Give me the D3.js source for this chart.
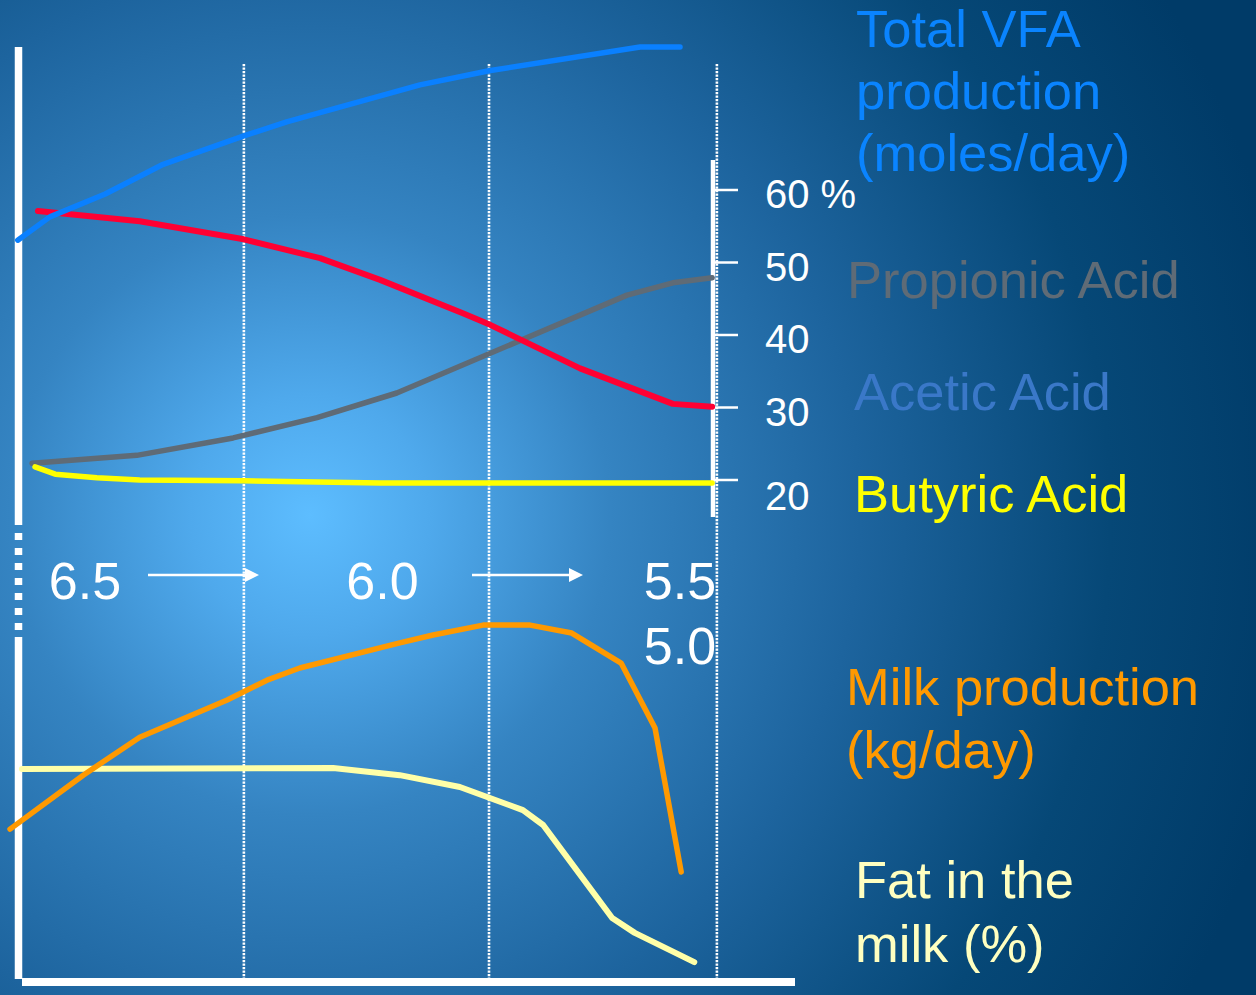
<!DOCTYPE html>
<html>
<head>
<meta charset="utf-8">
<script src="https://cdn.jsdelivr.net/npm/d3@7"></script>
<style>
  html, body { margin: 0; padding: 0; overflow: hidden; background: #0b4a80; }
  svg { display: block; font-family: "Liberation Sans", Arial, sans-serif; }
</style>
</head>
<body>
<svg id="chart" width="1256" height="995"></svg>
<script>
// ---------------- data ----------------
// x positions are rumen pH
const phLabels = ["6.5", "6.0", "5.5"];
const phLabelValues = [6.5, 6.0, 5.5];
const gridPH = [6.233, 5.821, 5.438];

// Total VFA production (relative units, 0-100)
const vfaPH  = [6.613, 6.559, 6.466, 6.371, 6.233, 6.161, 5.937, 5.821, 5.567, 5.500];
const vfaVal = [54.5, 59.8, 65.0, 71.6, 78.2, 81.4, 89.8, 93.0, 98.4, 98.4];

// Acetic acid (%)
const aceticPH  = [6.579, 6.408, 6.233, 6.105, 6.004, 5.865, 5.819, 5.668, 5.512, 5.446];
const aceticVal = [57.1, 55.7, 53.2, 50.6, 47.6, 43.0, 41.4, 35.4, 30.5, 30.1];

// Propionic acid (%)
const propPH  = [6.589, 6.413, 6.251, 6.110, 5.976, 5.589, 5.512, 5.446];
const propVal = [22.3, 23.4, 25.8, 28.6, 32.0, 45.5, 47.2, 47.9];

// Butyric acid (%)
const butPH  = [6.584, 6.550, 6.480, 6.408, 6.233, 6.004, 5.446];
const butVal = [21.8, 20.8, 20.3, 20.0, 19.9, 19.6, 19.6];

// Milk production (relative units)
const milkPH  = [6.626, 6.503, 6.408, 6.261, 6.194, 6.139, 5.971, 5.915, 5.831, 5.752, 5.682, 5.599, 5.542, 5.498];
const milkVal = [39.7, 53.9, 63.9, 73.7, 78.9, 82.1, 88.7, 90.8, 93.4, 93.4, 91.3, 83.4, 66.3, 28.4];

// Fat in the milk (relative units)
const fatPH  = [6.606, 6.083, 5.971, 5.870, 5.764, 5.730, 5.614, 5.576, 5.476];
const fatVal = [55.5, 55.8, 53.9, 50.8, 44.7, 40.8, 16.3, 12.4, 4.7];

const pctTicks = [20, 30, 40, 50, 60];
const pctTickLabels = ["20", "30", "40", "50", "60 %"];

// ---------------- drawing ----------------
const W = 1256, H = 995;
const svg = d3.select("#chart");

// background
const defs = svg.append("defs");
const rg = defs.append("radialGradient").attr("id", "bg")
  .attr("gradientUnits", "userSpaceOnUse")
  .attr("cx", 310).attr("cy", 515).attr("r", 1000);
[[0, "#5dbdff"], [0.12, "#4fa9ec"], [0.3, "#3584c2"], [0.55, "#1d649e"], [0.8, "#064877"], [1, "#003b68"]]
  .forEach(([o, c]) => rg.append("stop").attr("offset", o).attr("stop-color", c));
svg.append("rect").attr("width", W).attr("height", H).attr("fill", "url(#bg)");

// scales
const x = d3.scaleLinear().domain([6.5, 5.5]).range([85, 680]);
const yPct = d3.scaleLinear().domain([20, 60]).range([480, 190]);
const yVfa = d3.scaleLinear().domain([0, 100]).range([480, 40]);
const yMilk = d3.scaleLinear().domain([0, 100]).range([980, 600]);

// dotted vertical grid lines
svg.append("g").selectAll("line").data(gridPH).join("line")
  .attr("x1", d => x(d)).attr("x2", d => x(d))
  .attr("y1", 64).attr("y2", 979)
  .attr("stroke", "#ffffff").attr("stroke-width", 2.6)
  .attr("stroke-dasharray", "2.2,1.3");

// left axis (solid / dashed / solid)
const axL = 18.5;
svg.append("line").attr("x1", axL).attr("x2", axL).attr("y1", 47).attr("y2", 525)
  .attr("stroke", "#fff").attr("stroke-width", 7.5);
svg.append("line").attr("x1", axL).attr("x2", axL).attr("y1", 533).attr("y2", 631)
  .attr("stroke", "#fff").attr("stroke-width", 7.5).attr("stroke-dasharray", "7,8");
svg.append("line").attr("x1", axL).attr("x2", axL).attr("y1", 637).attr("y2", 979)
  .attr("stroke", "#fff").attr("stroke-width", 7.5);
// bottom axis
svg.append("line").attr("x1", 22).attr("x2", 795).attr("y1", 982).attr("y2", 982)
  .attr("stroke", "#fff").attr("stroke-width", 8);

// right % axis
const axR = 713;
svg.append("line").attr("x1", axR).attr("x2", axR).attr("y1", 160).attr("y2", 517)
  .attr("stroke", "#fff").attr("stroke-width", 4.5);
const tk = svg.append("g").selectAll("g").data(pctTicks).join("g");
tk.append("line")
  .attr("x1", axR).attr("x2", 738)
  .attr("y1", d => yPct(d)).attr("y2", d => yPct(d))
  .attr("stroke", "#fff").attr("stroke-width", 2.5);
tk.append("text")
  .attr("x", 765).attr("y", d => yPct(d) + (d === 20 ? 30 : 18))
  .attr("fill", "#fff").attr("font-size", 40)
  .text((d, i) => pctTickLabels[i]);

// lines
function drawLine(px, vals, yScale, color, width) {
  const pts = px.map((p, i) => [x(p), yScale(vals[i])]);
  svg.append("path")
    .attr("d", d3.line()(pts))
    .attr("fill", "none").attr("stroke", color).attr("stroke-width", width)
    .attr("stroke-linecap", "round").attr("stroke-linejoin", "round");
}
drawLine(propPH, propVal, yPct, "#5f6b76", 5.5);
drawLine(butPH, butVal, yPct, "#ffff00", 5.5);
drawLine(aceticPH, aceticVal, yPct, "#ff0033", 6);
drawLine(vfaPH, vfaVal, yVfa, "#0a80ff", 5.5);
drawLine(fatPH, fatVal, yMilk, "#ffffa8", 6);
drawLine(milkPH, milkVal, yMilk, "#ff9900", 5.5);

// pH labels
svg.append("g").selectAll("text").data(phLabelValues).join("text")
  .attr("x", d => x(d)).attr("y", 599)
  .attr("text-anchor", "middle").attr("fill", "#fff").attr("font-size", 52)
  .text((d, i) => phLabels[i]);
svg.append("text").attr("x", x(5.5)).attr("y", 664)
  .attr("text-anchor", "middle").attr("fill", "#fff").attr("font-size", 52)
  .text("5.0");

// arrows
function arrow(x1, x2, yy) {
  svg.append("line").attr("x1", x1).attr("x2", x2 - 12).attr("y1", yy).attr("y2", yy)
    .attr("stroke", "#fff").attr("stroke-width", 2.5);
  svg.append("path")
    .attr("d", `M${x2 - 14},${yy - 7} L${x2},${yy} L${x2 - 14},${yy + 7} Z`)
    .attr("fill", "#fff");
}
arrow(148, 259, 575);
arrow(472, 583, 575);

// right-side labels
function label(lines, x0, y0, color, lh) {
  const t = svg.append("text").attr("x", x0).attr("y", y0)
    .attr("fill", color).attr("font-size", 52.5);
  lines.forEach((s, i) => t.append("tspan").attr("x", x0).attr("y", y0 + i * lh).text(s));
}
label(["Total VFA", "production", "(moles/day)"], 856, 47, "#0a84ff", 62);
label(["Propionic Acid"], 847, 298, "#5f6b76", 0);
label(["Acetic Acid"], 854, 410, "#3a78c8", 0);
label(["Butyric Acid"], 854, 512, "#ffff00", 0);
label(["Milk production", "(kg/day)"], 846, 705, "#ff9900", 63);
label(["Fat in the", "milk (%)"], 855, 898, "#ffffc0", 64);
</script>
</body>
</html>
